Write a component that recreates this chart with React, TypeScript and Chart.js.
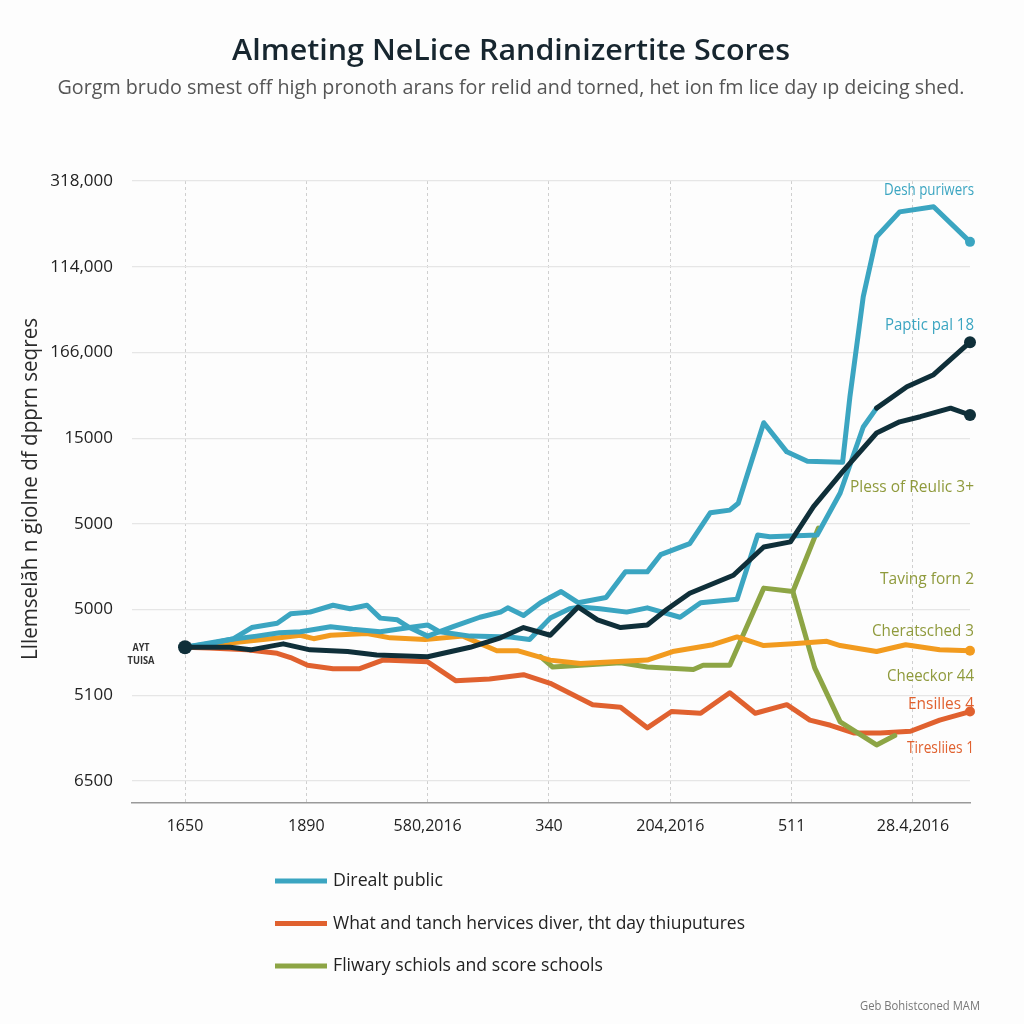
import React, { useEffect, useRef } from "react";
import { Chart, registerables } from "chart.js";

Chart.register(...registerables);

const TITLE = "Almeting NeLice Randinizertite Scores";
const SUBTITLE =
  "Gorgm brudo smest off high pronoth arans for relid and torned, het ion fm lice day ıp deicing shed.";
const Y_TITLE = "Lllemselăh n giolne df dpprn seqres";
const WATERMARK = "Geb Bohistconed MAM";

const yTickLabels = ["6500", "5100", "5000", "5000", "15000", "166,000", "114,000", "318,000"];
const xTickLabels = ["1650", "1890", "580,2016", "340", "204,2016", "511", "28.4,2016"];

const legendLabels = [
  "Direalt public",
  "What and tanch hervices diver, tht day thiuputures",
  "Fliwary schiols and score schools",
];

const sideLabels = [
  "Desh puriwers",
  "Paptic pal 18",
  "Pless of Reulic 3+",
  "Taving forn 2",
  "Cheratsched 3",
  "Cheeckor 44",
  "Ensilles 4",
  "Tiresliies 1",
];
const startLabels = ["AYT", "TUISA"];

// Series values (x in axis units, y in axis units)
const tealAX = [0, 0.2, 0.4, 0.55, 0.76, 0.87, 1.03, 1.22, 1.36, 1.5, 1.61, 1.75, 1.85, 2.0, 2.21, 2.43, 2.6, 2.66, 2.79, 2.93, 3.1, 3.24, 3.47, 3.63, 3.81, 3.92, 4.16, 4.33, 4.49, 4.56, 4.77, 4.96, 5.13, 5.42, 5.48, 5.59, 5.7, 5.89, 6.17, 6.47];
const tealAY = [1.56, 1.6, 1.66, 1.79, 1.84, 1.95, 1.97, 2.05, 2.01, 2.05, 1.9, 1.88, 1.79, 1.69, 1.8, 1.91, 1.97, 2.02, 1.93, 2.08, 2.21, 2.08, 2.14, 2.44, 2.44, 2.64, 2.77, 3.13, 3.16, 3.24, 4.18, 3.84, 3.73, 3.72, 4.48, 5.65, 6.35, 6.64, 6.7, 6.29];

const tealBX = [0, 0.37, 0.59, 0.78, 0.95, 1.2, 1.38, 1.61, 1.85, 2.0, 2.1, 2.35, 2.68, 2.84, 3.01, 3.17, 3.26, 3.42, 3.64, 3.81, 4.08, 4.25, 4.55, 4.72, 4.82, 5.21, 5.4, 5.59, 5.7];
const tealBY = [1.56, 1.65, 1.69, 1.73, 1.74, 1.8, 1.77, 1.74, 1.79, 1.82, 1.74, 1.69, 1.68, 1.65, 1.9, 2.01, 2.03, 2.01, 1.97, 2.02, 1.91, 2.08, 2.12, 2.87, 2.85, 2.87, 3.36, 4.13, 4.35];

const darkAX = [0, 0.37, 0.54, 0.81, 1.03, 1.34, 1.58, 2.0, 2.35, 2.6, 2.79, 3.01, 3.24, 3.4, 3.59, 3.81, 3.97, 4.16, 4.52, 4.77, 4.99, 5.18, 5.42, 5.7, 5.89, 6.06, 6.31, 6.47];
const darkAY = [1.56, 1.56, 1.53, 1.6, 1.53, 1.51, 1.47, 1.45, 1.56, 1.67, 1.79, 1.7, 2.03, 1.88, 1.79, 1.82, 2.0, 2.19, 2.4, 2.73, 2.79, 3.2, 3.61, 4.06, 4.19, 4.25, 4.35, 4.27];

const darkBX = [5.7, 5.95, 6.17, 6.47];
const darkBY = [4.35, 4.6, 4.74, 5.12];

const orangeX = [0, 0.37, 0.78, 0.95, 1.06, 1.2, 1.5, 1.69, 1.98, 2.29, 2.57, 2.74, 3.01, 3.26, 3.81, 4.02, 4.35, 4.55, 4.77, 5.01, 5.29, 5.4, 5.7, 5.94, 6.22, 6.47];
const orangeY = [1.56, 1.61, 1.67, 1.7, 1.66, 1.7, 1.72, 1.67, 1.65, 1.69, 1.52, 1.52, 1.41, 1.37, 1.41, 1.51, 1.59, 1.68, 1.58, 1.6, 1.63, 1.58, 1.51, 1.59, 1.53, 1.52];

const redX = [0, 0.2, 0.51, 0.76, 0.87, 1.01, 1.22, 1.44, 1.63, 2.0, 2.23, 2.51, 2.79, 3.01, 3.36, 3.59, 3.81, 4.01, 4.25, 4.49, 4.7, 4.96, 5.15, 5.32, 5.51, 5.73, 5.98, 6.22, 6.47];
const redY = [1.56, 1.55, 1.53, 1.49, 1.44, 1.35, 1.31, 1.31, 1.41, 1.39, 1.17, 1.19, 1.24, 1.14, 0.89, 0.86, 0.62, 0.81, 0.79, 1.03, 0.79, 0.89, 0.71, 0.65, 0.56, 0.56, 0.58, 0.71, 0.81];

const greenAX = [2.93, 3.03, 3.26, 3.59, 3.81, 4.19, 4.27, 4.49, 4.77, 5.01, 5.19, 5.4, 5.7, 5.85];
const greenAY = [1.45, 1.33, 1.35, 1.38, 1.33, 1.3, 1.35, 1.35, 2.25, 2.21, 1.32, 0.69, 0.42, 0.53];

const greenBX = [5.01, 5.22];
const greenBY = [2.21, 2.95];

const TEAL = "#3ba5c1";
const DARK = "#0f2f39";
const ORANGE = "#f29b1f";
const RED = "#e0612f";
const GREEN = "#8da545";
const OLIVE = "#8f9a3c";

const pts = (xs: number[], ys: number[]) => xs.map((x, i) => ({ x, y: ys[i] }));

function fitText(
  ctx: CanvasRenderingContext2D,
  text: string,
  x: number,
  y: number,
  width: number,
  font: string,
  color: string,
  align: CanvasTextAlign
) {
  ctx.save();
  ctx.font = font;
  ctx.fillStyle = color;
  ctx.textBaseline = "middle";
  ctx.textAlign = align;
  const w = ctx.measureText(text).width;
  const s = width / w;
  ctx.translate(x, y);
  ctx.scale(s, 1);
  ctx.fillText(text, 0, 0);
  ctx.restore();
}

const decorPlugin = {
  id: "decor",
  beforeDraw(chart: any) {
    const ctx = chart.ctx as CanvasRenderingContext2D;
    ctx.save();
    ctx.fillStyle = "#fdfdfd";
    ctx.fillRect(0, 0, chart.width, chart.height);
    ctx.restore();
  },
  afterDraw(chart: any) {
    const ctx = chart.ctx as CanvasRenderingContext2D;
    const F = "'Open Sans', sans-serif";
    fitText(ctx, TITLE, 511, 52, 558, `600 29px ${F}`, "#17262f", "center");
    fitText(ctx, SUBTITLE, 511, 88, 907, `400 20px ${F}`, "#555", "center");

    // rotated y title
    ctx.save();
    ctx.translate(31, 489);
    ctx.rotate(-Math.PI / 2);
    fitText(ctx, Y_TITLE, 0, 0, 342, `400 22px ${F}`, "#2a2a2a", "center");
    ctx.restore();

    // side annotations
    const side = [
      { y: 190, w: 90, c: TEAL },
      { y: 325, w: 89, c: TEAL },
      { y: 487, w: 124, c: OLIVE },
      { y: 579, w: 94, c: OLIVE },
      { y: 631, w: 102, c: OLIVE },
      { y: 676, w: 87, c: OLIVE },
      { y: 704, w: 66, c: RED },
      { y: 748, w: 67, c: RED },
    ];
    side.forEach((s, i) => fitText(ctx, sideLabels[i], 974, s.y, s.w, `400 16px ${F}`, s.c, "right"));

    fitText(ctx, startLabels[0], 141, 648, 17, `700 10px ${F}`, "#333", "center");
    fitText(ctx, startLabels[1], 141, 661, 27, `700 10px ${F}`, "#333", "center");

    // legend
    const legendColors = [TEAL, RED, GREEN];
    const lw = [110, 412, 270];
    legendLabels.forEach((t, i) => {
      const y = 881 + i * 42.5;
      ctx.save();
      ctx.strokeStyle = legendColors[i];
      ctx.lineWidth = 5;
      ctx.beginPath();
      ctx.moveTo(275, y);
      ctx.lineTo(327, y);
      ctx.stroke();
      ctx.restore();
      fitText(ctx, t, 333, y, lw[i], `400 19px ${F}`, "#222", "left");
    });

    fitText(ctx, WATERMARK, 980, 1006, 120, `400 13px ${F}`, "#777", "right");
  },
};

export default function App() {
  const ref = useRef<HTMLCanvasElement | null>(null);
  useEffect(() => {
    if (!ref.current) return;
    Chart.defaults.font.family = "'Open Sans', sans-serif";
    const lastDot = (r: number) => (c: any) => (c.dataIndex === c.dataset.data.length - 1 ? r : 0);
    const base = {
      borderWidth: 5,
      tension: 0,
      fill: false,
      clip: false as any,
      borderJoinStyle: "round" as const,
      borderCapStyle: "round" as const,
      pointBorderWidth: 0,
    };
    const chart = new Chart(ref.current, {
      type: "line",
      data: {
        datasets: [
          {
            ...base,
            label: "darkA",
            data: pts(darkAX, darkAY),
            borderColor: DARK,
            backgroundColor: DARK,
            pointRadius: (c: any) => (c.dataIndex === 0 ? 7 : c.dataIndex === c.dataset.data.length - 1 ? 6 : 0),
          },
          { ...base, label: "darkB", data: pts(darkBX, darkBY), borderColor: DARK, backgroundColor: DARK, pointRadius: lastDot(6) },
          { ...base, label: legendLabels[0], data: pts(tealAX, tealAY), borderColor: TEAL, backgroundColor: TEAL, pointRadius: lastDot(5) },
          { ...base, label: "tealB", data: pts(tealBX, tealBY), borderColor: TEAL, backgroundColor: TEAL, pointRadius: 0 },
          { ...base, label: "orange", data: pts(orangeX, orangeY), borderColor: ORANGE, backgroundColor: ORANGE, pointRadius: lastDot(5) },
          { ...base, label: legendLabels[2], data: pts(greenAX, greenAY), borderColor: GREEN, backgroundColor: GREEN, pointRadius: 0 },
          { ...base, label: "greenB", data: pts(greenBX, greenBY), borderColor: GREEN, backgroundColor: GREEN, pointRadius: 0 },
          { ...base, label: legendLabels[1], data: pts(redX, redY), borderColor: RED, backgroundColor: RED, pointRadius: lastDot(5) },
        ],
      },
      options: {
        animation: false,
        responsive: false,
        maintainAspectRatio: false,
        layout: { padding: { left: 0, top: 181, right: 54, bottom: 181 } },
        plugins: { legend: { display: false }, tooltip: { enabled: false }, title: { display: false } },
        scales: {
          x: {
            type: "linear",
            min: -0.437,
            max: 6.47,
            afterBuildTicks: (s: any) => {
              s.ticks = xTickLabels.map((_, i) => ({ value: i }));
            },
            afterFit: (s: any) => {
              s.height = 40;
            },
            grid: { color: "#cfcfcf", lineWidth: 1, drawTicks: false },
            border: { display: true, color: "#9a9a9a", width: 1.5, dash: [3, 3] },
            ticks: {
              callback: (v: any) => xTickLabels[v],
              padding: 14,
              autoSkip: false,
              maxRotation: 0,
              color: "#222",
              font: { size: 16 },
            },
          },
          y: {
            type: "linear",
            min: -0.257,
            max: 7,
            afterBuildTicks: (s: any) => {
              s.ticks = yTickLabels.map((_, i) => ({ value: i }));
            },
            afterFit: (s: any) => {
              s.width = 132;
            },
            grid: { color: "#e6e6e6", lineWidth: 1.2, drawTicks: false },
            border: { display: false },
            ticks: {
              callback: (v: any) => yTickLabels[v],
              padding: 19,
              color: "#222",
              font: { size: 17 },
            },
          },
        },
      },
      plugins: [decorPlugin],
    } as any);
    return () => chart.destroy();
  }, []);
  return (
    <div style={{ position: "fixed", left: 0, top: 0, width: 1024, height: 1024, background: "#fdfdfd" }}>
      <canvas ref={ref} width={1024} height={1024} style={{ display: "block" }} />
    </div>
  );
}
